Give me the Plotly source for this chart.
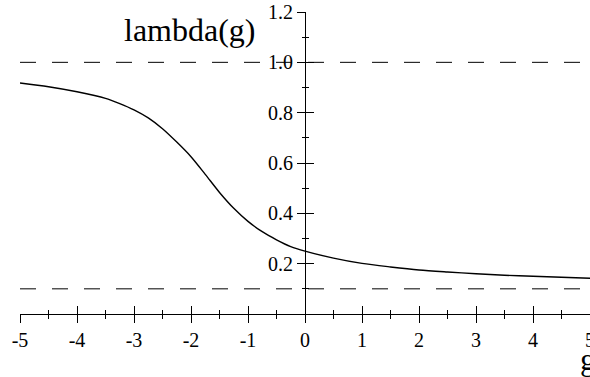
import plotly.graph_objects as go

# lambda(g)
g = [-5.0, -4.5, -4.0, -3.5, -3.25, -3.0, -2.75, -2.5, -2.25, -2.0, -1.75, -1.5, -1.25, -1.0,
     -0.75, -0.5, -0.25, 0.0, 0.5, 1.0, 1.5, 2.0, 2.5, 3.0, 3.5, 4.0, 4.5, 5.0]
lam = [0.918, 0.903, 0.883, 0.857, 0.836, 0.811, 0.779, 0.736, 0.683, 0.625, 0.555, 0.483, 0.420, 0.368,
       0.327, 0.295, 0.268, 0.250, 0.222, 0.201, 0.187, 0.175, 0.167, 0.160, 0.154, 0.150, 0.146, 0.142]

asymptotes = [1.0, 0.1]

x_ticks = [-5, -4, -3, -2, -1, 0, 1, 2, 3, 4, 5]
x_tick_labels = ['-5', '-4', '-3', '-2', '-1', '0', '1', '2', '3', '4', '5']
y_ticks = [0.2, 0.4, 0.6, 0.8, 1.0, 1.2]
y_tick_labels = ['0.2', '0.4', '0.6', '0.8', '1.0', '1.2']

serif = 'Liberation Serif'
tick_font = dict(family=serif, size=20, color='black')

fig = go.Figure()

for a in asymptotes:
    fig.add_trace(go.Scatter(x=[g[0], g[-1]], y=[a, a], mode='lines', xaxis='x2', yaxis='y2',
                             line=dict(color='black', width=1, dash='16px,16px'),
                             showlegend=False, hoverinfo='skip'))

fig.add_trace(go.Scatter(x=g, y=lam, mode='lines',
                         line=dict(color='black', width=1.4, shape='spline', smoothing=0.8),
                         showlegend=False))

common_x = dict(range=[-5, 5], showgrid=False, zeroline=False, automargin=False)
common_y = dict(range=[0, 1.2], showgrid=False, zeroline=False, automargin=False)

fig.update_layout(
    width=590, height=377,
    margin=dict(l=20, r=0, t=12, b=63),
    paper_bgcolor='white', plot_bgcolor='white',
    font=dict(family=serif, size=20, color='black'),
    xaxis=dict(**common_x, showline=True, linecolor='black', linewidth=1,
               ticks='outside', ticklen=8, tickwidth=1, tickcolor='black',
               tickvals=x_ticks, ticktext=x_tick_labels, tickfont=tick_font,
               ticklabeloverflow='allow',
               minor=dict(ticks='outside', ticklen=4, tickwidth=1, tickcolor='black',
                          dtick=0.5, tick0=-5, showgrid=False)),
    xaxis2=dict(**common_x, overlaying='x', anchor='y2', side='bottom', showline=False,
                ticks='inside', ticklen=8, tickwidth=1, tickcolor='black',
                tickvals=x_ticks, showticklabels=False,
                minor=dict(ticks='inside', ticklen=4, tickwidth=1, tickcolor='black',
                           dtick=0.5, tick0=-5, showgrid=False)),
    yaxis=dict(**common_y, anchor='free', position=0.5, side='left',
               showline=True, linecolor='black', linewidth=1,
               ticks='outside', ticklen=8, tickwidth=1, tickcolor='black',
               tickvals=y_ticks, ticktext=y_tick_labels, tickfont=tick_font,
               ticklabeloverflow='allow',
               minor=dict(ticks='outside', ticklen=3, tickwidth=1, tickcolor='black',
                          dtick=0.1, tick0=0, showgrid=False)),
    yaxis2=dict(**common_y, overlaying='y', anchor='free', position=0.5, side='left',
                showline=False, ticks='inside', ticklen=8, tickwidth=1, tickcolor='black',
                tickvals=y_ticks, showticklabels=False,
                minor=dict(ticks='inside', ticklen=3, tickwidth=1, tickcolor='black',
                           dtick=0.1, tick0=0, showgrid=False)),
    annotations=[
        dict(text='lambda(g)', xref='paper', yref='paper', x=0.298, y=0.942,
             xanchor='center', yanchor='middle', showarrow=False,
             font=dict(family=serif, size=32, color='black')),
        dict(text='g', xref='paper', yref='paper', x=0.979, y=-0.150,
             xanchor='left', yanchor='middle', showarrow=False,
             font=dict(family=serif, size=32, color='black')),
    ],
)

# drop the default 8px body margin so the figure fills the window
fig.write_html('out.html', config={'displayModeBar': False},
               post_script="document.body.style.margin='0';")
